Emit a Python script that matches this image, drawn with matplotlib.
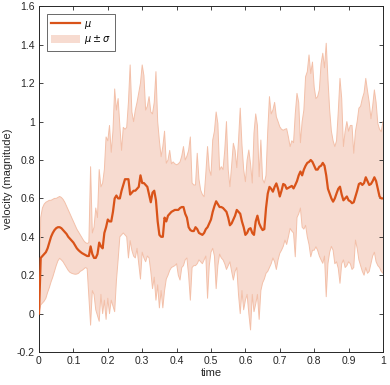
import numpy as np
import matplotlib
matplotlib.use("Agg")
import matplotlib.pyplot as plt
from matplotlib.patches import Patch
from matplotlib.lines import Line2D

plt.rcParams['font.family'] = ['Liberation Sans', 'DejaVu Sans']
plt.rcParams['mathtext.fontset'] = 'dejavusans'

t = np.linspace(0, 1, 201)

mu = [
    0.00, 0.29, 0.30, 0.31, 0.32, 0.34, 0.37, 0.40, 0.42, 0.435,
    0.445, 0.45, 0.45, 0.445, 0.435, 0.425, 0.415, 0.40, 0.39, 0.38,
    0.37, 0.355, 0.34, 0.33, 0.322, 0.315, 0.31, 0.305, 0.30, 0.30,
    0.35, 0.31, 0.29, 0.29, 0.31, 0.37, 0.35, 0.34, 0.42, 0.45,
    0.49, 0.48, 0.48, 0.53, 0.60, 0.615, 0.60, 0.60, 0.64, 0.67,
    0.70, 0.70, 0.70, 0.62, 0.63, 0.64, 0.64, 0.65, 0.66, 0.72,
    0.68, 0.68, 0.67, 0.66, 0.62, 0.58, 0.63, 0.64, 0.59, 0.48,
    0.41, 0.40, 0.40, 0.50, 0.48, 0.51, 0.52, 0.53, 0.535, 0.54,
    0.54, 0.54, 0.55, 0.555, 0.555, 0.52, 0.50, 0.45, 0.435, 0.43,
    0.43, 0.45, 0.44, 0.42, 0.415, 0.41, 0.42, 0.44, 0.45, 0.47,
    0.49, 0.53, 0.56, 0.585, 0.57, 0.555, 0.555, 0.55, 0.54, 0.53,
    0.50, 0.46, 0.47, 0.49, 0.51, 0.54, 0.53, 0.52, 0.48, 0.45,
    0.41, 0.42, 0.44, 0.445, 0.42, 0.41, 0.48, 0.51, 0.47, 0.45,
    0.435, 0.44, 0.55, 0.625, 0.66, 0.65, 0.635, 0.66, 0.678, 0.65,
    0.61, 0.64, 0.675, 0.67, 0.65, 0.655, 0.66, 0.665, 0.652, 0.67,
    0.69, 0.72, 0.74, 0.72, 0.75, 0.77, 0.785, 0.79, 0.80, 0.79,
    0.77, 0.75, 0.75, 0.765, 0.77, 0.785, 0.77, 0.72, 0.65, 0.625,
    0.60, 0.583, 0.60, 0.626, 0.65, 0.661, 0.62, 0.59, 0.60, 0.61,
    0.59, 0.585, 0.575, 0.58, 0.61, 0.64, 0.675, 0.68, 0.67, 0.68,
    0.71, 0.69, 0.67, 0.675, 0.69, 0.71, 0.69, 0.65, 0.61, 0.60,
    0.60,
]

upper = [
    0.00, 0.50, 0.55, 0.57, 0.58, 0.585, 0.59, 0.59, 0.595, 0.60,
    0.60, 0.605, 0.61, 0.605, 0.595, 0.58, 0.56, 0.54, 0.52, 0.50,
    0.48, 0.46, 0.44, 0.425, 0.41, 0.395, 0.38, 0.37, 0.365, 0.37,
    0.765, 0.42, 0.45, 0.55, 0.50, 0.75, 0.66, 0.68, 0.75, 0.92,
    0.90, 0.98, 0.84, 0.95, 1.17, 1.06, 1.12, 0.98, 0.85, 0.97,
    0.96, 0.97, 1.10, 1.295, 1.05, 1.00, 1.06, 1.10, 1.15, 1.20,
    1.295, 1.24, 1.06, 1.08, 1.13, 1.05, 1.04, 1.10, 1.26, 1.00,
    0.90, 0.817, 0.87, 0.95, 0.783, 0.80, 0.85, 0.78, 0.79, 0.78,
    0.775, 0.78, 0.79, 0.82, 0.87, 0.80, 0.82, 0.85, 0.92, 0.68,
    0.67, 0.67, 0.835, 0.70, 0.643, 0.62, 0.609, 0.73, 0.87, 0.75,
    0.72, 0.904, 0.95, 1.05, 0.99, 0.748, 0.765, 0.75, 0.85, 1.00,
    0.75, 0.661, 0.77, 0.887, 0.85, 0.76, 0.90, 1.07, 0.88, 0.75,
    0.687, 0.80, 0.852, 0.78, 0.68, 0.94, 1.04, 0.98, 0.713, 0.904,
    0.70, 0.68, 0.72, 0.95, 1.13, 1.04, 1.06, 1.10, 1.025, 1.00,
    0.973, 0.96, 0.955, 0.96, 0.963, 0.92, 0.87, 0.90, 0.89, 1.04,
    1.147, 1.10, 0.89, 1.00, 1.06, 1.234, 1.26, 1.347, 1.25, 1.31,
    1.18, 1.12, 1.13, 1.165, 1.30, 1.356, 1.28, 1.408, 1.22, 1.06,
    0.95, 0.90, 0.87, 0.90, 1.05, 1.225, 1.12, 0.87, 0.95, 1.00,
    0.95, 0.98, 0.98, 0.835, 0.95, 1.00, 1.07, 1.08, 1.12, 1.15,
    1.225, 1.16, 1.10, 1.015, 1.08, 1.165, 1.10, 0.99, 0.96, 0.947,
    1.00,
]

lower = [
    0.00, 0.045, 0.055, 0.065, 0.08, 0.11, 0.135, 0.165, 0.19, 0.22,
    0.25, 0.275, 0.288, 0.28, 0.27, 0.255, 0.24, 0.225, 0.215, 0.21,
    0.207, 0.205, 0.206, 0.21, 0.22, 0.225, 0.232, 0.24, 0.235, 0.09,
    -0.06, 0.12, 0.10, 0.02, -0.01, -0.04, 0.10, 0.00, 0.07, -0.03,
    0.08, 0.00, 0.07, 0.04, 0.01, 0.17, 0.28, 0.40, 0.41, 0.42,
    0.41, 0.40, 0.29, 0.38, 0.33, 0.30, 0.29, 0.34, 0.26, 0.18,
    0.32, 0.29, 0.27, 0.30, 0.29, 0.22, 0.13, 0.19, 0.07, 0.15,
    0.03, 0.12, 0.03, 0.12, 0.18, 0.20, 0.225, 0.24, 0.245, 0.25,
    0.26, 0.20, 0.175, 0.24, 0.25, 0.28, 0.29, 0.20, 0.07, 0.24,
    0.25, 0.25, 0.26, 0.28, 0.27, 0.26, 0.28, 0.30, 0.08, 0.25,
    0.32, 0.34, 0.30, 0.13, 0.25, 0.31, 0.29, 0.28, 0.26, 0.23,
    0.25, 0.27, 0.22, 0.175, 0.22, 0.24, 0.10, 0.00, 0.12, 0.02,
    0.07, 0.10, 0.00, -0.085, 0.10, 0.01, 0.05, 0.10, -0.03, 0.12,
    0.16, 0.18, 0.21, 0.22, 0.24, 0.26, 0.29, 0.27, 0.23, 0.28,
    0.314, 0.33, 0.35, 0.383, 0.36, 0.40, 0.444, 0.43, 0.42, 0.296,
    0.50, 0.52, 0.55, 0.45, 0.44, 0.46, 0.40, 0.36, 0.296, 0.33,
    0.33, 0.348, 0.33, 0.30, 0.28, 0.262, 0.30, 0.088, 0.26, 0.32,
    0.35, 0.33, 0.26, 0.27, 0.236, 0.158, 0.26, 0.28, 0.24, 0.25,
    0.27, 0.26, 0.23, 0.24, 0.383, 0.34, 0.28, 0.25, 0.22, 0.20,
    0.24, 0.21, 0.22, 0.26, 0.30, 0.32, 0.27, 0.25, 0.24, 0.22,
    0.21,
]

xticks = [0, 0.1, 0.2, 0.3, 0.4, 0.5, 0.6, 0.7, 0.8, 0.9, 1]
xticklabels = ['0', '0.1', '0.2', '0.3', '0.4', '0.5', '0.6', '0.7', '0.8', '0.9', '1']
yticks = [-0.2, 0, 0.2, 0.4, 0.6, 0.8, 1, 1.2, 1.4, 1.6]
yticklabels = ['-0.2', '0', '0.2', '0.4', '0.6', '0.8', '1', '1.2', '1.4', '1.6']

line_color = '#D95319'
face_color = '#F7DBD0'
edge_color = '#F3C0A9'
axis_color = '#262626'

fig = plt.figure(figsize=(3.9, 3.85), dpi=100)
ax = fig.add_axes([0.1, 0.0857, 0.882, 0.8977])

ax.fill_between(t, lower, upper, facecolor=face_color, edgecolor='none', zorder=1)
ax.plot(t, upper, color=edge_color, lw=0.7, zorder=2)
ax.plot(t, lower, color=edge_color, lw=0.7, zorder=2)
ax.plot(t, mu, color=line_color, lw=1.6, zorder=3)

ax.set_xlim(0, 1)
ax.set_ylim(-0.2, 1.6)
ax.set_xticks(xticks)
ax.set_xticklabels(xticklabels)
ax.set_yticks(yticks)
ax.set_yticklabels(yticklabels)
ax.tick_params(direction='in', top=True, right=True, length=3, width=0.6,
               colors=axis_color, labelsize=7.5, pad=3)
for s in ax.spines.values():
    s.set_color(axis_color)
    s.set_linewidth(0.7)

ax.set_xlabel('time', fontsize=8, color=axis_color, labelpad=1)
ax.set_ylabel('velocity (magnitude)', fontsize=8, color=axis_color, labelpad=3)

handles = [Line2D([0], [0], color=line_color, lw=1.6),
           Patch(facecolor=face_color, edgecolor='none')]
leg = ax.legend(handles, [r'$\mu$', r'$\mu \pm \sigma$'], loc='upper left',
                fontsize=7, frameon=True, fancybox=False, handlelength=3.0,
                handleheight=0.9, borderpad=0.45, labelspacing=0.25,
                handletextpad=0.4, borderaxespad=0.0,
                bbox_to_anchor=(0.022, 0.977))
leg.get_frame().set_edgecolor(axis_color)
leg.get_frame().set_linewidth(0.6)

fig.savefig('out.png', dpi=100)
